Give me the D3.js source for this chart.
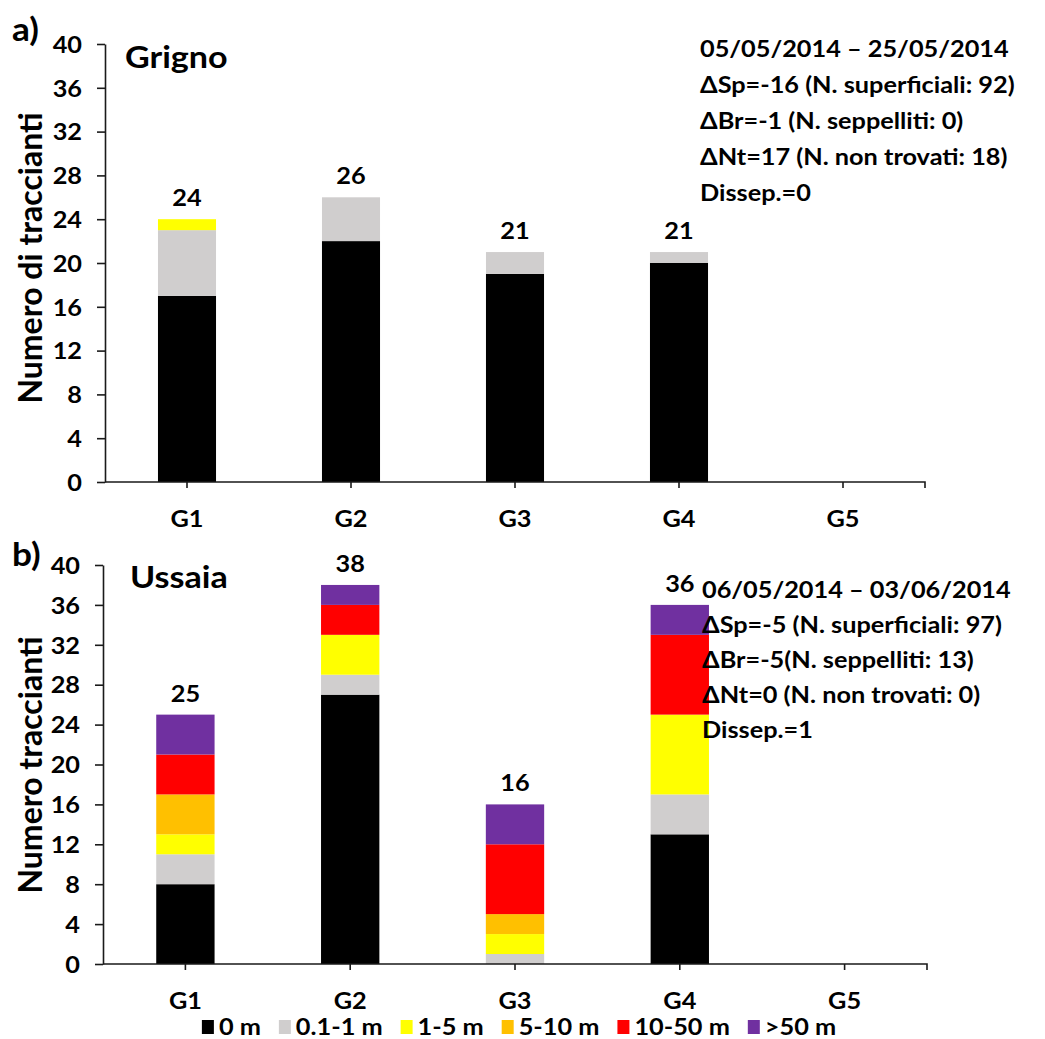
<!DOCTYPE html>
<html><head><meta charset="utf-8">
<script src="https://cdn.jsdelivr.net/npm/d3@7"></script>
<style>
html,body{margin:0;padding:0;background:#fff;}
text{font-family:Lato,"Open Sans",sans-serif;font-weight:bold;fill:#000;}
</style></head>
<body><svg id="chart" width="1045" height="1039"></svg>
<script>
// ---------- data ----------
const categories = ["G1","G2","G3","G4","G5"];
const classes = ["0 m","0.1-1 m","1-5 m","5-10 m","10-50 m",">50 m"];
const classColors = ["#000000","#D0CECE","#FFFF00","#FFC000","#FF0000","#7030A0"];
const yTicks = [0,4,8,12,16,20,24,28,32,36,40];
// values per class (rows) for G1..G5 (columns)
const grignoSeries = [
  [17,22,19,20,0],
  [6,4,2,1,0],
  [1,0,0,0,0],
  [0,0,0,0,0],
  [0,0,0,0,0],
  [0,0,0,0,0]
];
const ussaiaSeries = [
  [8,27,0,13,0],
  [3,2,1,4,0],
  [2,4,2,8,0],
  [4,0,2,0,0],
  [4,3,7,8,0],
  [4,2,4,3,0]
];
const grignoNotes = ["05/05/2014 \u2013 25/05/2014","\u0394Sp=-16 (N. superficiali: 92)","\u0394Br=-1 (N. seppelliti: 0)","\u0394Nt=17 (N. non trovati: 18)","Dissep.=0"];
const ussaiaNotes = ["06/05/2014 \u2013 03/06/2014","\u0394Sp=-5 (N. superficiali: 97)","\u0394Br=-5(N. seppelliti: 13)","\u0394Nt=0 (N. non trovati: 0)","Dissep.=1"];

// ---------- drawing ----------
const SX = 1.1; // horizontal stretch of the original picture's text
const svg = d3.select("#chart");

function stretchedText(g, x, y, str, size, anchor){
  return g.append("text")
    .attr("transform", `translate(${x},${y}) scale(${SX},1)`)
    .attr("text-anchor", anchor || "start")
    .style("font-size", size + "px")
    .text(str);
}

function panel(cfg){
  const g = svg.append("g");
  const x = d3.scaleBand().domain(categories)
    .range([cfg.x0, cfg.x1]).paddingInner(0.646).paddingOuter(0.323);
  const y = d3.scaleLinear().domain([0,40]).range([cfg.yb, cfg.yt]);

  const rows = categories.map((c,i)=>{
    const r = {cat:c};
    classes.forEach((k,j)=>{ r[k] = cfg.series[j][i]; });
    return r;
  });
  const stacked = d3.stack().keys(classes)(rows);

  stacked.forEach((layer,j)=>{
    g.append("g").attr("fill", classColors[j])
      .selectAll("rect").data(layer.filter(d=>d[1]-d[0]>0)).join("rect")
      .attr("x", d=>x(d.data.cat))
      .attr("width", x.bandwidth())
      .attr("y", d=>y(d[1]))
      .attr("height", d=>y(d[0])-y(d[1]));
  });

  // totals
  rows.forEach(r=>{
    const tot = d3.sum(classes, k=>r[k]);
    if(tot>0) stretchedText(g, x(r.cat)+x.bandwidth()/2, y(tot)-13, String(tot), 23, "middle");
  });

  // y axis
  const ya = g.append("g").attr("transform",`translate(${cfg.x0},0)`)
    .call(d3.axisLeft(y).tickValues(yTicks).tickSize(8).tickSizeOuter(0).tickPadding(20));
  ya.selectAll("path,line").attr("stroke","#1a1a1a").attr("stroke-width",1.6);
  ya.selectAll("text").attr("x", -23/SX).attr("dy","0.36em")
    .attr("transform",`scale(${SX},1)`)
    .style("font-size","23px");
  ya.attr("font-family",null).attr("font-size",null);

  // x axis
  const xa = g.append("g").attr("transform",`translate(0,${cfg.yb})`)
    .call(d3.axisBottom(x).tickSize(6).tickSizeOuter(6).tickPadding(22));
  xa.selectAll("path,line").attr("stroke","#1a1a1a").attr("stroke-width",1.6);
  xa.select(".domain").attr("d", `M${cfg.x0},0H${cfg.x1}V6`);
  xa.selectAll("text").attr("y", 29).attr("dy","0.71em")
    .attr("transform",`scale(${SX},1)`)
    .style("font-size","23px");
  xa.attr("font-family",null).attr("font-size",null);

  // y title
  g.append("text")
    .attr("transform",`translate(${cfg.titleX},${cfg.titleY}) rotate(-90)`)
    .attr("text-anchor","middle").attr("dy","0.36em")
    .style("font-size","32px").text(cfg.ytitle);

  // panel letter & name
  stretchedText(g, 12, cfg.letterY, cfg.letter, 32, "start");
  stretchedText(g, cfg.nameX, cfg.nameY, cfg.name, 31, "start");

  // notes
  cfg.notes.forEach((s,i)=>stretchedText(g, cfg.noteX, cfg.noteY + i*cfg.noteStep, s, 23, "start"));
  return {x,y};
}

panel({x0:105, x1:925, yt:44, yb:482, series:grignoSeries, ytitle:"Numero di traccianti",
  titleX:30, titleY:258, letter:"a)", letterY:41, name:"Grigno", nameX:125, nameY:68,
  notes:grignoNotes, noteX:700, noteY:57, noteStep:36});
panel({x0:103, x1:927, yt:565, yb:964, series:ussaiaSeries, ytitle:"Numero traccianti",
  titleX:30, titleY:765, letter:"b)", letterY:566, name:"Ussaia", nameX:130, nameY:588,
  notes:ussaiaNotes, noteX:702, noteY:598, noteStep:35});

// legend
const lg = svg.append("g");
let cx = 0;
classes.forEach((c,i)=>{
  const it = lg.append("g");
  it.append("rect").attr("x",0).attr("y",-15).attr("width",12).attr("height",14).attr("fill",classColors[i]);
  const t = stretchedText(it, 17, 0, c, 23, "start");
  const w = 17 + t.node().getComputedTextLength()*SX;
  it.attr("transform",`translate(${cx},0)`);
  cx += w + 18;
});
const totalW = cx - 18;
lg.attr("transform",`translate(${519 - totalW/2},1035)`);
</script></body></html>
